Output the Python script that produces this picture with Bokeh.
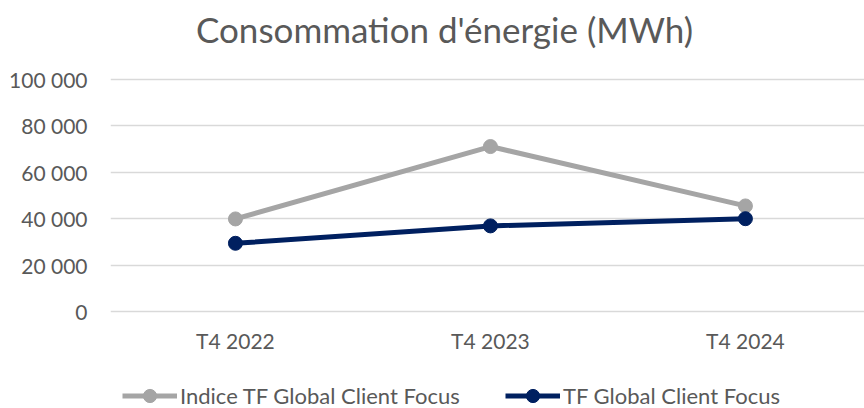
from bokeh.plotting import figure
from bokeh.layouts import column
from bokeh.models import Range1d, FixedTicker, Legend, LegendItem, CustomJSTickFormatter, Label
from bokeh.embed import file_html
from bokeh.resources import INLINE

title_text = "Consommation d'énergie (MWh)"
categories = ["T4 2022", "T4 2023", "T4 2024"]
indice_tf = [39900, 71100, 45500]
tf_global = [29400, 36900, 40000]
series_names = ["Indice TF Global Client Focus", "TF Global Client Focus"]
series_colors = ["#A5A5A5", "#002060"]
y_ticks = [0, 20000, 40000, 60000, 80000, 100000]

FONT = "Lato"
TXT = "#595959"
FS = "21px"

xs = list(range(len(categories)))


def strip(h):
    f = figure(width=864, height=h, output_backend="svg", toolbar_location=None,
               x_range=Range1d(0, 1), y_range=Range1d(0, 1),
               min_border_left=0, min_border_right=0, min_border_top=0, min_border_bottom=0)
    f.outline_line_color = None
    f.axis.visible = False
    f.grid.visible = False
    f.border_fill_color = "white"
    return f


# title strip
tf = strip(60)
tf.add_layout(Label(x=0.443, y=0.53, text=title_text, text_align="center",
                    text_baseline="middle", text_font=FONT, text_font_size="35px",
                    text_color=TXT))

# main chart
p = figure(width=864, height=295, output_backend="svg", toolbar_location=None,
           x_range=Range1d(-0.490, 2.467), y_range=Range1d(-3880, 103880),
           min_border_left=110, min_border_right=0, min_border_top=10, min_border_bottom=35)
p.outline_line_color = None
p.border_fill_color = "white"

p.xgrid.grid_line_color = None
p.ygrid.grid_line_color = "#D9D9D9"
p.ygrid.grid_line_width = 1.5
p.yaxis.ticker = FixedTicker(ticks=y_ticks)
p.yaxis.formatter = CustomJSTickFormatter(code="""
  const s = Math.round(tick).toString();
  return s.replace(/\\B(?=(\\d{3})+(?!\\d))/g, ' ');
""")
p.xaxis.ticker = FixedTicker(ticks=xs)
p.xaxis.major_label_overrides = {i: c for i, c in enumerate(categories)}

for ax in (p.xaxis[0], p.yaxis[0]):
    ax.axis_line_color = None
    ax.major_tick_line_color = None
    ax.minor_tick_line_color = None
    ax.major_tick_in = 0
    ax.major_tick_out = 0
    ax.major_label_text_font = FONT
    ax.major_label_text_font_size = FS
    ax.major_label_text_color = TXT
p.yaxis.major_label_standoff = 23
p.xaxis.major_label_standoff = 7

series = [indice_tf, tf_global]
for vals, col in zip(series, series_colors):
    p.line(xs, vals, line_color=col, line_width=5)
    p.scatter(xs, vals, size=14, fill_color=col, line_color=col)

# legend strip below the chart
lg = strip(53)
legend_x = [12, 395]
for name, vals, col, lx in zip(series_names, series, series_colors, legend_x):
    r1 = lg.line(xs, vals, line_color=col, line_width=5)
    r2 = lg.scatter(xs, vals, size=14, fill_color=col, line_color=col)
    leg = Legend(items=[LegendItem(label=name, renderers=[r1, r2])],
                 orientation="horizontal", location=(lx, -4),
                 glyph_width=55, glyph_height=33, label_height=33, label_standoff=3,
                 padding=0, margin=0, border_line_color=None, background_fill_alpha=0,
                 label_text_font=FONT, label_text_font_size="22px", label_text_color=TXT)
    lg.add_layout(leg, "center")

layout = column(tf, p, lg, spacing=0)
open("out.html", "w").write(file_html(layout, INLINE))
